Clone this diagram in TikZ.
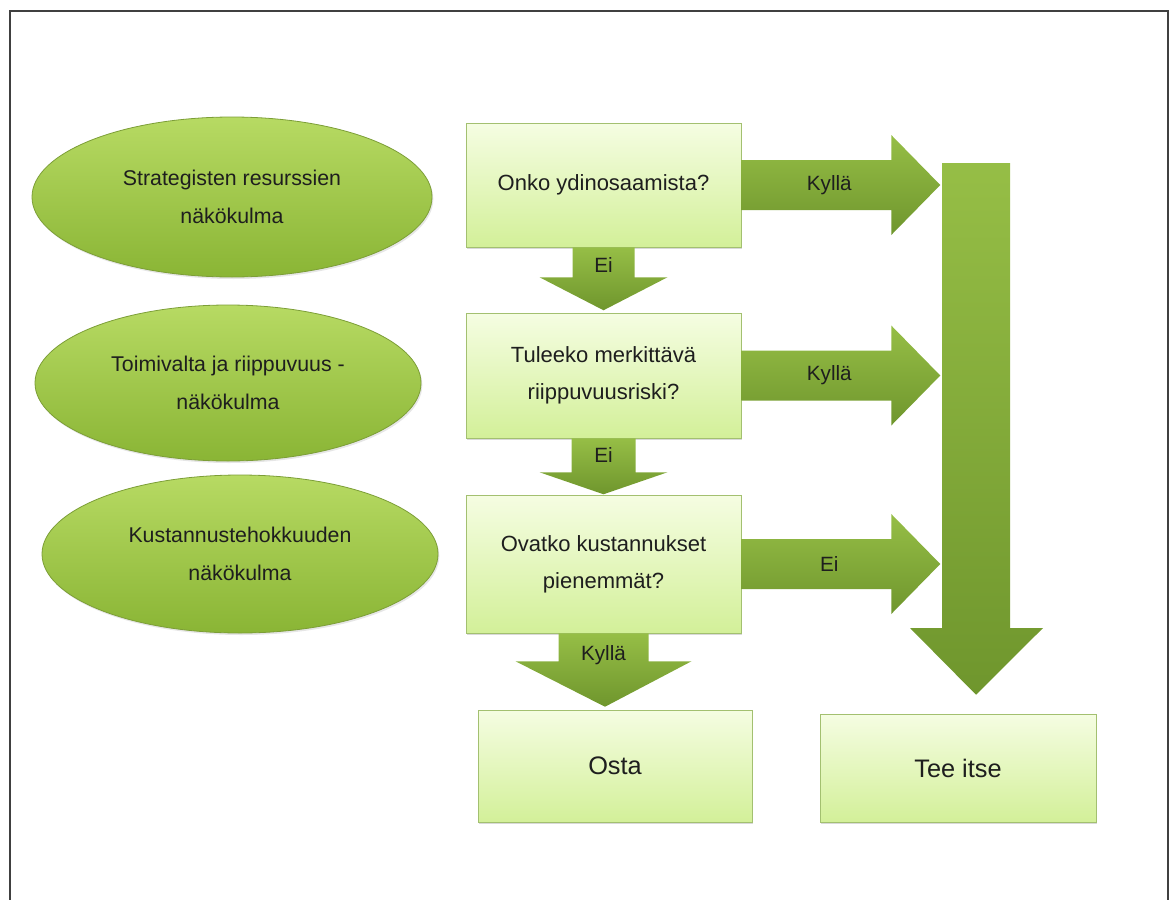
\documentclass[tikz,border=0pt]{standalone}
\usepackage{fontspec}
\setmainfont{Liberation Sans}
\usetikzlibrary{calc,shapes.geometric,shadows}
\definecolor{ink}{HTML}{1E1E1E}
\definecolor{ovaltop}{HTML}{B7DA63}
\definecolor{ovalbot}{HTML}{8AB535}
\definecolor{ovaledge}{HTML}{7C9E37}
\definecolor{boxtop}{HTML}{F5FDE2}
\definecolor{boxbot}{HTML}{D3F099}
\definecolor{boxedge}{HTML}{A3C070}
\definecolor{arrtop}{HTML}{96BE46}
\definecolor{arrbot}{HTML}{6F962D}

\begin{document}
\begin{tikzpicture}[x=0.75pt,y=-0.75pt,
    view/.style={ellipse,top color=ovaltop,bottom color=ovalbot,draw=ovaledge,semithick,
      drop shadow={opacity=0.2,shadow xshift=1pt,shadow yshift=-1.5pt},
      align=center,text=ink,font=\fontsize{16}{28.5}\selectfont},
    question/.style={rectangle,top color=boxtop,bottom color=boxbot,draw=boxedge,thin,
      drop shadow={opacity=0.3,shadow xshift=1pt,shadow yshift=-1.5pt},
      minimum width=206.25pt,align=center,text=ink,font=\fontsize{16.5}{28}\selectfont},
    answer/.style={question,font=\fontsize{19}{23}\selectfont},
    arrowfill/.style={top color=arrtop,bottom color=arrbot,draw=none},
    arrowlabel/.style={text=ink,font=\fontsize{15.5}{18}\selectfont}]
  \useasboundingbox (0,0) rectangle (1176,899);
  \draw[line width=1pt,draw=black!75] (10,11) rectangle (1168,910);

  % viewpoints
  \node[view,minimum width=300pt,minimum height=120pt] (v1) at (232,197) {Strategisten resurssien\\näkökulma};
  \node[view,minimum width=289.5pt,minimum height=117pt] (v2) at (228,383) {Toimivalta ja riippuvuus -\\näkökulma};
  \node[view,minimum width=297pt,minimum height=118.5pt] (v3) at (240,554) {Kustannustehokkuuden\\näkökulma};

  % questions and outcomes
  \node[question,minimum height=93pt] (q1) at (603.5,185) {Onko ydinosaamista?};
  \node[question,minimum height=93.75pt] (q2) at (603.5,375.5) {Tuleeko merkittävä\\riippuvuusriski?};
  \node[question,minimum height=103.5pt] (q3) at (603.5,564) {Ovatko kustannukset\\pienemmät?};
  \node[answer,minimum width=205.5pt,minimum height=84pt] (buy) at (615,766) {Osta};
  \node[answer,minimum width=207pt,minimum height=81pt] (own) at (958,768) {Tee itse};

  % big arrow down to Tee itse
  \path[arrowfill] (942,163) -- (1010,163) -- (1010,628) -- (1043,628)
    -- ($(own.north)+(18,-19)$) -- (910,628) -- (942,628) -- cycle;

  % arrows to the right
  \foreach \q/\lab in {q1/Kyllä,q2/Kyllä,q3/Ei}{
    \path[arrowfill] (\q.east) ++(0,-25) -- ++(150,0) -- ++(0,-25) -- ++(49,50)
      -- ++(-49,50) -- ++(0,-25) -- ++(-150,0) -- cycle;
    \node[arrowlabel] (r\q) at ($(\q.east)+(88,0)$) {\lab};
  }

  % arrows down
  \path[arrowfill] ($(q1.south)+(-31,0)$) -- ++(62,0) -- ++(0,30) -- ++(33,0)
    -- ++(-64,33) -- ++(-64,-33) -- ++(33,0) -- cycle;
  \node[arrowlabel] (d1) at ($(q1.south)+(0,18)$) {Ei};
  \path[arrowfill] ($(q2.south)+(-32,0)$) -- ++(64,0) -- ++(0,34) -- ++(32,0)
    -- ++(-64,22) -- ++(-64,-22) -- ++(32,0) -- cycle;
  \node[arrowlabel] (d2) at ($(q2.south)+(0,17)$) {Ei};
  \path[arrowfill] ($(q3.south)+(-45,0)$) -- ++(90,0) -- ++(0,28) -- ++(43,0)
    -- ($(buy.north)+(-10,-3)$) -- ($(q3.south)+(-88,28)$) -- ++(43,0) -- cycle;
  \node[arrowlabel] (d3) at ($(q3.south)+(0,22)$) {Kyllä};
\end{tikzpicture}
\end{document}
